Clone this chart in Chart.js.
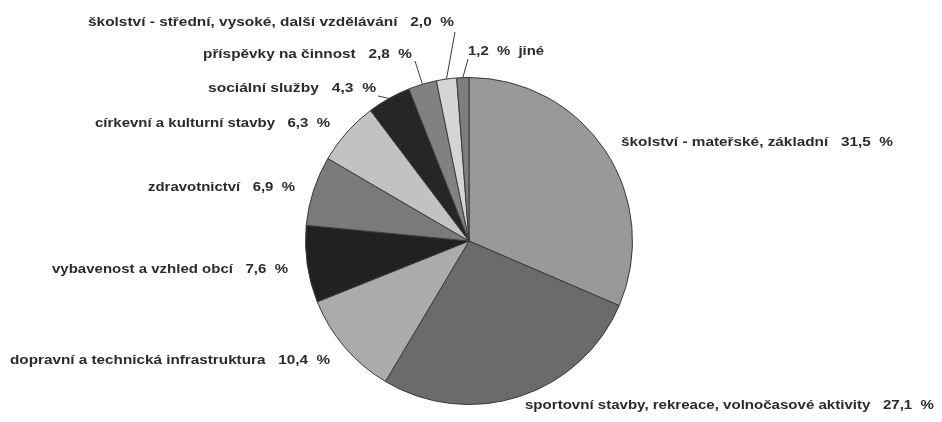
<!DOCTYPE html>
<html>
<head>
<meta charset="utf-8">
<script src="https://cdn.jsdelivr.net/npm/chart.js@4.4.0/dist/chart.umd.min.js"></script>
<style>
    body { margin: 0; background: #fff; }
    #wrap { width: 942px; height: 422px; position: relative; }
</style>
</head>
<body>
<div id="wrap"><canvas id="pieChart"></canvas></div>
<script>
// slices, clockwise from 12 o'clock
const categories = [
    'školství - mateřské, základní',
    'sportovní stavby, rekreace, volnočasové aktivity',
    'dopravní a technická infrastruktura',
    'vybavenost a vzhled obcí',
    'zdravotnictví',
    'církevní a kulturní stavby',
    'sociální služby',
    'příspěvky na činnost',
    'školství - střední, vysoké, další vzdělávání',
    'jiné'
];
const values = [31.5, 27.1, 10.4, 7.6, 6.9, 6.3, 4.3, 2.8, 2.0, 1.2];
const sliceColors = ['#999999', '#6b6b6b', '#ababab', '#212121', '#7a7a7a',
                     '#c2c2c2', '#262626', '#818181', '#d4d4d4', '#7d7d7d'];

// where each label sits (left edge, right edge, middle y) + optional leader line start
const labelSpots = [
    { left: 621, right: 893, y: 142 },
    { left: 525, right: 934, y: 405 },
    { left: 10,  right: 330, y: 360 },
    { left: 52,  right: 288, y: 269 },
    { left: 148, right: 295, y: 187 },
    { left: 95,  right: 330, y: 123 },
    { left: 208, right: 376, y: 88,  tick: [378, 96] },
    { left: 203, right: 412, y: 54,  tick: [415, 61] },
    { left: 88,  right: 454, y: 22,  tick: [455, 32] },
    { left: 468, right: 544, y: 51,  tick: [468, 59], valueFirst: true }
];

function fmtValue(v) {
    return v.toFixed(1).replace('.', ',') + '  %';
}

const sliceLabels = {
    id: 'sliceLabels',
    afterDraw(chart) {
        const ctx = chart.ctx;
        const arcs = chart.getDatasetMeta(0).data;
        ctx.save();

        // leader lines
        ctx.strokeStyle = '#3c3c3c';
        ctx.lineWidth = 1;
        labelSpots.forEach((s, i) => {
            if (!s.tick) return;
            const a = arcs[i];
            const mid = (a.startAngle + a.endAngle) / 2;
            ctx.beginPath();
            ctx.moveTo(s.tick[0], s.tick[1]);
            ctx.lineTo(a.x + a.outerRadius * Math.cos(mid), a.y + a.outerRadius * Math.sin(mid));
            ctx.stroke();
        });

        // texts, stretched to the width they take in the original
        ctx.font = 'bold 13px "Liberation Sans", Arial, sans-serif';
        ctx.fillStyle = '#2b2b2b';
        ctx.textBaseline = 'middle';
        ctx.textAlign = 'left';
        labelSpots.forEach((s, i) => {
            const name = categories[i];
            const val = fmtValue(values[i]);
            const txt = s.valueFirst ? val + '  ' + name : name + '   ' + val;
            const w = ctx.measureText(txt).width;
            ctx.save();
            ctx.translate(s.left, s.y);
            ctx.scale((s.right - s.left) / w, 1);
            ctx.fillText(txt, 0, 0);
            ctx.restore();
        });
        ctx.restore();
    }
};

new Chart(document.getElementById('pieChart').getContext('2d'), {
    type: 'pie',
    data: {
        labels: categories,
        datasets: [{
            data: values,
            backgroundColor: sliceColors,
            borderColor: '#3a3a3a',
            borderWidth: 1
        }]
    },
    options: {
        responsive: true,
        maintainAspectRatio: false,
        animation: false,
        layout: { padding: { top: 77, bottom: 17, left: 305, right: 309 } },
        plugins: {
            legend: { display: false },
            tooltip: { enabled: false }
        }
    },
    plugins: [sliceLabels]
});
</script>
</body>
</html>
